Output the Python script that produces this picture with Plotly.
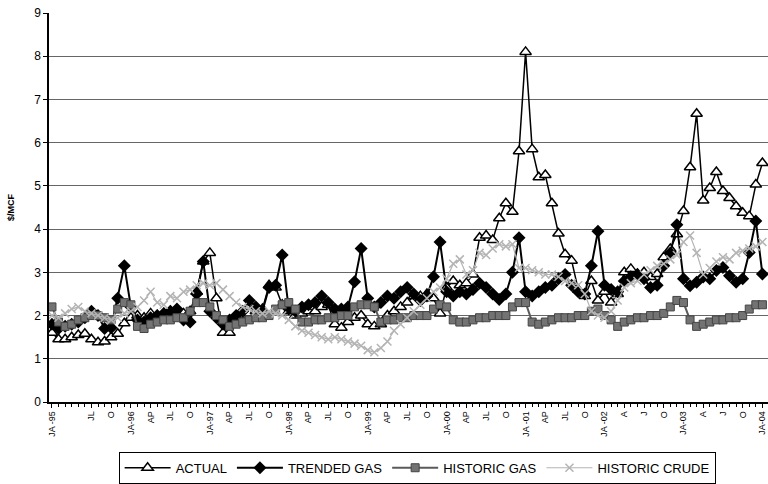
import plotly.graph_objects as go

# monthly values, Jan-1995 .. Jan-2004 ($/MCF)
actual = [
    1.60, 1.45, 1.45, 1.50, 1.55, 1.58, 1.45, 1.38, 1.40, 1.50, 1.58, 1.82,  # 1995
    1.95, 2.00, 1.95, 2.05, 2.00, 2.05, 2.10, 2.10, 2.05, 2.10, 2.55, 3.25,  # 1996
    3.45, 2.40, 1.60, 1.60, 1.95, 2.00, 2.05, 2.10, 2.15, 2.70, 2.65, 2.25,  # 1997
    2.10, 2.00, 2.05, 2.10, 2.10, 2.20, 2.25, 1.80, 1.72, 1.85, 1.95, 2.00,  # 1998
    1.80, 1.75, 1.80, 2.00, 2.10, 2.20, 2.30, 2.45, 2.45, 2.50, 2.40, 2.05,  # 1999
    2.65, 2.80, 2.70, 2.75, 2.95, 3.80, 3.85, 3.75, 4.25, 4.60, 4.40, 5.80,  # 2000
    8.10, 5.85, 5.20, 5.25, 4.60, 3.90, 3.42, 3.27, 2.60, 2.45, 2.80, 2.35,  # 2001
    2.55, 2.30, 2.50, 3.00, 3.08, 2.96, 3.00, 2.89, 2.96, 3.35, 3.54, 3.88,  # 2002
    4.42, 5.43, 6.67, 4.66, 4.95, 5.32, 4.88, 4.72, 4.53, 4.38, 4.30, 5.03,  # 2003
    5.53,                                                                    # 2004
]
trended_gas = [
    1.80, 1.70, 1.75, 1.80, 1.85, 1.95, 2.10, 2.00, 1.70, 1.72, 2.40, 3.15,
    2.20, 1.90, 1.85, 1.95, 2.00, 2.05, 2.10, 2.15, 1.90, 1.85, 2.50, 3.25,
    2.10, 1.95, 1.80, 1.90, 2.00, 2.10, 2.35, 2.20, 2.10, 2.65, 2.70, 3.40,
    2.15, 2.10, 2.20, 2.25, 2.30, 2.45, 2.30, 2.15, 2.15, 2.20, 2.78, 3.55,
    2.40, 2.20, 2.30, 2.45, 2.40, 2.55, 2.65, 2.50, 2.35, 2.45, 2.90, 3.70,
    2.55, 2.45, 2.55, 2.50, 2.60, 2.75, 2.65, 2.50, 2.37, 2.50, 3.00, 3.80,
    2.55, 2.45, 2.55, 2.65, 2.70, 2.85, 2.95, 2.70, 2.55, 2.50, 3.15, 3.95,
    2.70, 2.60, 2.55, 2.80, 2.90, 2.95, 2.85, 2.65, 2.70, 3.15, 3.45, 4.10,
    2.85, 2.69, 2.77, 2.89, 2.85, 3.04, 3.11, 2.92, 2.77, 2.85, 3.46, 4.19,
    2.96,
]
historic_gas = [
    2.20, 1.85, 1.75, 1.80, 1.90, 1.95, 2.00, 2.00, 1.95, 1.90, 2.15, 2.30,
    2.25, 1.75, 1.70, 1.80, 1.85, 1.90, 1.90, 1.95, 1.95, 2.10, 2.30, 2.30,
    2.20, 2.00, 1.90, 1.75, 1.80, 1.85, 1.90, 1.95, 1.95, 2.00, 2.15, 2.25,
    2.30, 2.15, 1.85, 1.85, 1.90, 1.90, 1.95, 1.95, 2.00, 2.00, 2.20, 2.25,
    2.25, 2.20, 1.85, 1.90, 1.90, 1.95, 1.95, 2.00, 2.00, 2.00, 2.15, 2.25,
    2.20, 1.90, 1.85, 1.85, 1.90, 1.95, 1.95, 2.00, 2.00, 2.00, 2.20, 2.30,
    2.30, 1.85, 1.80, 1.85, 1.90, 1.95, 1.95, 1.95, 2.00, 2.00, 2.10, 2.15,
    2.00, 1.90, 1.75, 1.85, 1.90, 1.95, 1.95, 2.00, 2.00, 2.05, 2.20, 2.35,
    2.30, 1.90, 1.75, 1.80, 1.85, 1.90, 1.90, 1.95, 1.95, 2.00, 2.15, 2.25,
    2.25,
]
historic_crude = [
    2.00, 1.95, 2.05, 2.15, 2.20, 2.10, 2.05, 2.00, 1.95, 1.90, 1.95, 2.05,
    2.10, 2.20, 2.35, 2.55, 2.30, 2.25, 2.45, 2.40, 2.55, 2.60, 2.70, 2.75,
    2.70, 2.75, 2.60, 2.45, 2.30, 2.20, 2.15, 2.10, 2.05, 2.10, 2.05, 2.00,
    1.90, 1.75, 1.65, 1.60, 1.55, 1.50, 1.45, 1.50, 1.45, 1.40, 1.35, 1.30,
    1.20, 1.15, 1.25, 1.40, 1.65, 1.80, 1.95, 2.10, 2.25, 2.40, 2.55, 2.65,
    2.85, 3.20, 3.30, 2.95, 3.05, 3.45, 3.40, 3.55, 3.65, 3.60, 3.65, 3.10,
    3.10, 3.05, 3.00, 2.95, 2.95, 2.90, 2.80, 2.75, 2.70, 2.50, 2.10, 2.00,
    1.95, 2.10, 2.35, 2.65, 2.75, 2.80, 2.95, 3.05, 3.15, 3.20, 3.30, 3.40,
    3.70, 3.85, 3.45, 2.95, 3.10, 3.25, 3.35, 3.30, 3.45, 3.50, 3.55, 3.60,
    3.70,
]

tick_pos = [0] + list(range(6, 109, 3))
tick_text = ['JA -95', 'JL', 'O',
             'JA-96', 'AP', 'JL', 'O',
             'JA-97', 'AP', 'JL', 'O',
             'JA-98', 'AP', 'JL', 'O',
             'JA-99', 'AP', 'JL', 'O',
             'JA-00', 'AP', 'JL', 'O',
             'JA -01', 'AP', 'JL', 'O',
             'JA -02', 'A', 'J', 'O',
             'JA-03', 'A', 'J', 'O',
             'JA-04']

months = list(range(len(actual)))

fig = go.Figure()

fig.add_trace(go.Scatter(
    x=months, y=actual, name='ACTUAL', mode='lines+markers',
    line=dict(color='black', width=1.5),
    marker=dict(symbol='triangle-up', size=10, color='white',
                line=dict(color='black', width=1.5)),
))
fig.add_trace(go.Scatter(
    x=months, y=trended_gas, name='TRENDED GAS', mode='lines+markers',
    line=dict(color='black', width=2),
    marker=dict(symbol='diamond', size=10, color='black'),
))
fig.add_trace(go.Scatter(
    x=months, y=historic_gas, name='HISTORIC GAS', mode='lines+markers',
    line=dict(color='#5a5a5a', width=2),
    marker=dict(symbol='square', size=8, color='#737373',
                line=dict(color='#444444', width=1)),
))
fig.add_trace(go.Scatter(
    x=months, y=historic_crude, name='HISTORIC CRUDE', mode='lines+markers',
    line=dict(color='#b4b4b4', width=1.2),
    marker=dict(symbol='x-thin-open', size=8,
                line=dict(color='#a8a8a8', width=1.5)),
))

fig.update_layout(
    width=768, height=484,
    margin=dict(l=49, r=0, t=13, b=79),
    paper_bgcolor='white',
    plot_bgcolor='white',
    font=dict(family='Liberation Sans, Arial', color='black'),
    showlegend=True,
    legend=dict(
        orientation='h',
        x=0.512, xanchor='center',
        y=-0.128, yanchor='top',
        bordercolor='black', borderwidth=1,
        font=dict(size=13),
        itemwidth=46,
        tracegroupgap=0,
    ),
    xaxis=dict(
        range=[-0.45, 108.85],
        tickmode='array', tickvals=tick_pos, ticktext=tick_text,
        tickangle=-90, tickfont=dict(size=9),
        ticklabeloverflow='allow',
        ticks='outside', ticklen=4, tickcolor='black',
        minor=dict(ticks='outside', ticklen=3, dtick=1, tick0=0, tickcolor='black'),
        showline=True, linecolor='black', linewidth=1.5,
        showgrid=False, zeroline=False, automargin=False,
    ),
    yaxis=dict(
        range=[0, 9], dtick=1,
        tickfont=dict(size=12),
        ticks='outside', ticklen=4, tickcolor='black',
        showline=True, linecolor='black', linewidth=1.5,
        showgrid=True, gridcolor='#666666', gridwidth=1,
        zeroline=False, automargin=False,
        title=dict(text='<b>$/MCF</b>', font=dict(size=9), standoff=18),
    ),
)

# the page body gets a default 8px margin; drop it so the figure sits at 0,0
fig.write_html('out.html', config={'displayModeBar': False},
               post_script="document.body.style.margin='0px';")
